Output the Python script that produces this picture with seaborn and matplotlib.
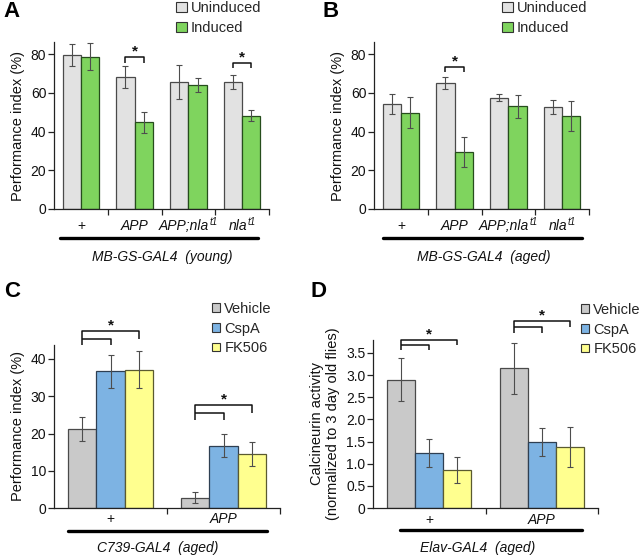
import numpy as np
import pandas as pd
import matplotlib
matplotlib.use("Agg")
import matplotlib.pyplot as plt
import matplotlib.transforms as mtrans
from matplotlib.patches import Patch
from matplotlib.lines import Line2D
import seaborn as sns

# ---------------- data ----------------
ab_groups = ["+", "APP", "APP;nla", "nla"]
ab_label_base = ["+", "APP", "APP;nla", "nla"]
ab_label_sup = ["", "", "t1", "t1"]
ab_label_italic = [False, True, True, True]
ab_series = ["Uninduced", "Induced"]

a_unind = [79.5, 68.0, 65.5, 65.5]
a_unind_err = [5.8, 5.7, 8.9, 3.8]
a_ind = [78.5, 44.7, 64.0, 48.2]
a_ind_err = [7.0, 5.4, 3.5, 3.0]

b_unind = [54.0, 64.9, 57.5, 52.7]
b_unind_err = [5.2, 3.0, 1.7, 3.5]
b_ind = [49.7, 29.4, 53.0, 48.0]
b_ind_err = [8.0, 7.8, 5.8, 7.6]

cd_groups = ["+", "APP"]
cd_label_base = ["+", "APP"]
cd_label_sup = ["", ""]
cd_label_italic = [False, True]
cd_series = ["Vehicle", "CspA", "FK506"]

c_vehicle = [21.2, 2.8]
c_vehicle_err = [3.1, 1.5]
c_cspa = [36.7, 16.7]
c_cspa_err = [4.5, 3.1]
c_fk506 = [37.1, 14.6]
c_fk506_err = [5.0, 3.2]

d_vehicle = [2.90, 3.15]
d_vehicle_err = [0.49, 0.58]
d_cspa = [1.24, 1.49]
d_cspa_err = [0.32, 0.32]
d_fk506 = [0.86, 1.37]
d_fk506_err = [0.29, 0.45]

# significance brackets (top, low) for A/B, (top, mid, low) for C/D
a_brackets = {"APP": (78.3, 75.4), "nla": (75.5, 72.6)}
b_brackets = {"APP": (73.4, 70.5)}
c_brackets = {"+": (47.5, 45.5, 43.75), "APP": (27.7, 25.4, 23.7)}
d_brackets = {"+": (3.80, 3.67, 3.56), "APP": (4.22, 4.09, 3.95)}

# ---------------- style ----------------
sns.set_theme(style="ticks")
plt.rcParams["font.family"] = ["Liberation Sans", "DejaVu Sans"]

ab_colors = ["#e2e2e2", "#7fd45e"]
ab_edges = ["#4a4a4a", "#264d1c"]
cd_colors = ["#c9c9c9", "#7db3e3", "#ffff8f"]
cd_edges = ["#4a4a4a", "#2e3f52", "#5a5a30"]

W, H = 640, 558
fig = plt.figure(figsize=(W / 100, H / 100), dpi=100)
renderer = fig.canvas.get_renderer()


def ax_px(l, r, bottom, top):
    return fig.add_axes([l / W, 1 - bottom / H, (r - l) / W, (bottom - top) / H])


def text_width(txt, size, style):
    if not txt:
        return 0.0
    t = fig.text(0, 0, txt, fontsize=size, style=style)
    w = t.get_window_extent(renderer).width
    t.remove()
    return w


def draw_panel(ax, groups, lab_base, lab_sup, lab_it, series, values, errors, colors,
               edges, width, ylim, yticks, yticklabels, ylabel, label_off):
    rows = []
    for s, vals in zip(series, values):
        for g, v in zip(groups, vals):
            rows.append(dict(group=g, series=s, value=v))
    df = pd.DataFrame(rows)
    sns.barplot(data=df, x="group", y="value", hue="series", order=groups,
                hue_order=series, palette=dict(zip(series, colors)),
                width=width, gap=0, errorbar=None, ax=ax, legend=False,
                saturation=1, linewidth=0.9)
    centers = {}
    for s, cont, errs, ec in zip(series, ax.containers, errors, edges):
        for g, bar, e in zip(groups, cont, errs):
            bar.set_edgecolor(ec)
            x = bar.get_x() + bar.get_width() / 2
            centers[(s, g)] = x
            ax.errorbar(x, bar.get_height(), yerr=e, fmt="none", ecolor="#4d4d4d",
                        elinewidth=0.8, capsize=2.3, capthick=0.8, zorder=5)
    n = len(groups)
    ax.set_xlim(-0.5, n - 0.5)
    ax.set_ylim(*ylim)
    ax.set_yticks(yticks)
    ax.set_yticklabels(yticklabels)
    ax.set_xticks(range(n))
    ax.set_xticklabels([""] * n)
    ax.set_xticks([i + 0.5 for i in range(n)], minor=True)
    ax.tick_params(axis="x", which="major", length=0)
    ax.tick_params(axis="x", which="minor", length=4, width=0.9, color="#222222", direction="out")
    ax.tick_params(axis="y", length=4, width=0.9, color="#222222", pad=1.5, labelsize=10,
                   labelcolor="#111111")
    ax.set_xlabel("")
    ax.set_ylabel(ylabel, fontsize=10.5, labelpad=4, color="#111111")
    for side in ["top", "right"]:
        ax.spines[side].set_visible(False)
    for side in ["left", "bottom"]:
        ax.spines[side].set_color("#222222")
        ax.spines[side].set_linewidth(0.9)
    for i, (b, sp, it) in enumerate(zip(lab_base, lab_sup, lab_it)):
        style = "italic" if it else "normal"
        wb = text_width(b, 10, style)
        ws = text_width(sp, 7, "italic")
        total = wb + ws
        tr = mtrans.offset_copy(ax.get_xaxis_transform(), fig=fig, x=-total / 2,
                                y=-label_off, units="dots")
        ax.text(i, 0, b, transform=tr, ha="left", va="baseline", fontsize=10,
                style=style, color="#111111")
        if sp:
            tr2 = mtrans.offset_copy(ax.get_xaxis_transform(), fig=fig,
                                     x=-total / 2 + wb + 0.5, y=-label_off + 5, units="dots")
            ax.text(i, 0, sp, transform=tr2, ha="left", va="baseline", fontsize=7,
                    style="italic", color="#111111")
    return centers


def star(ax, x, y):
    tr = mtrans.offset_copy(ax.transData, fig=fig, x=0, y=1.5, units="dots")
    ax.text(x, y, "*", transform=tr, ha="center", va="baseline", fontsize=11,
            fontweight="bold", color="#111111", clip_on=False)


def simple_bracket(ax, x0, x1, top, low):
    ax.plot([x0, x0, x1, x1], [low, top, top, low], color="#111111", lw=1.1,
            clip_on=False, solid_capstyle="butt")
    star(ax, (x0 + x1) / 2, top)


def triple_bracket(ax, x0, x1, x2, top, mid, low):
    ax.plot([x0, x0, x2, x2], [low, top, top, mid], color="#111111", lw=1.1,
            clip_on=False, solid_capstyle="butt")
    ax.plot([x0, x1, x1], [mid, mid, low], color="#111111", lw=1.1,
            clip_on=False, solid_capstyle="butt")
    star(ax, (x0 + x2) / 2, top)


def legend(labels, colors, edges, x, y, size, spacing):
    handles = [Patch(facecolor=c, edgecolor="#333333", linewidth=0.8) for c in colors]
    fig.legend(handles, labels, loc="upper left", bbox_to_anchor=(x / W, 1 - y / H),
               frameon=False, handlelength=size, handleheight=size, handletextpad=0.3,
               labelspacing=spacing, borderpad=0, borderaxespad=0, fontsize=10.5)


def underline(x0, x1, y, text, ty, tx):
    fig.add_artist(Line2D([x0 / W, x1 / W], [1 - y / H, 1 - y / H], color="black", lw=2.4))
    fig.text(tx / W, 1 - ty / H, text, ha="center", va="baseline", fontsize=10,
             style="italic", color="#111111")


# ---------------- Panel A ----------------
axA = ax_px(54, 269, 209, 209 - 86 * 1.9375)
cA = draw_panel(axA, ab_groups, ab_label_base, ab_label_sup, ab_label_italic, ab_series,
                [a_unind, a_ind], [a_unind_err, a_ind_err], ab_colors, ab_edges, 0.68,
                (0, 86), [0, 20, 40, 60, 80], ["0", "20", "40", "60", "80"],
                "Performance index (%)", 21)
for g, (t, l) in a_brackets.items():
    simple_bracket(axA, cA[("Uninduced", g)], cA[("Induced", g)], t, l)
legend(ab_series, ab_colors, ab_edges, 176, 1, 0.72, 0.42)
underline(60, 258, 238, "MB-GS-GAL4  (young)", 261, 162)

# ---------------- Panel B ----------------
axB = ax_px(374, 589, 209, 209 - 86 * 1.9375)
cB = draw_panel(axB, ab_groups, ab_label_base, ab_label_sup, ab_label_italic, ab_series,
                [b_unind, b_ind], [b_unind_err, b_ind_err], ab_colors, ab_edges, 0.68,
                (0, 86), [0, 20, 40, 60, 80], ["0", "20", "40", "60", "80"],
                "Performance index (%)", 21)
for g, (t, l) in b_brackets.items():
    simple_bracket(axB, cB[("Uninduced", g)], cB[("Induced", g)], t, l)
legend(ab_series, ab_colors, ab_edges, 502, 1, 0.72, 0.42)
underline(383, 582, 238, "MB-GS-GAL4  (aged)", 261, 484)

# ---------------- Panel C ----------------
axC = ax_px(54, 280, 508, 508 - 43.8 * 3.725)
cC = draw_panel(axC, cd_groups, cd_label_base, cd_label_sup, cd_label_italic, cd_series,
                [c_vehicle, c_cspa, c_fk506], [c_vehicle_err, c_cspa_err, c_fk506_err],
                cd_colors, cd_edges, 0.75, (0, 43.8), [0, 10, 20, 30, 40],
                ["0", "10", "20", "30", "40"], "Performance index (%)", 15)
for g, (t, m, l) in c_brackets.items():
    triple_bracket(axC, cC[("Vehicle", g)], cC[("CspA", g)], cC[("FK506", g)], t, m, l)
legend(cd_series, cd_colors, cd_edges, 212, 302, 0.55, 0.38)
underline(68, 267, 531, "C739-GAL4  (aged)", 552, 158)

# ---------------- Panel D ----------------
axD = ax_px(373, 598, 508, 508 - 3.8 * 44.29)
cD = draw_panel(axD, cd_groups, cd_label_base, cd_label_sup, cd_label_italic, cd_series,
                [d_vehicle, d_cspa, d_fk506], [d_vehicle_err, d_cspa_err, d_fk506_err],
                cd_colors, cd_edges, 0.75, (0, 3.8),
                [0, 0.5, 1.0, 1.5, 2.0, 2.5, 3.0, 3.5],
                ["0", "0.5", "1.0", "1.5", "2.0", "2.5", "3.0", "3.5"],
                "Calcineurin activity\n(normalized to 3 day old flies)", 16)
for g, (t, m, l) in d_brackets.items():
    triple_bracket(axD, cD[("Vehicle", g)], cD[("CspA", g)], cD[("FK506", g)], t, m, l)
legend(cd_series, cd_colors, cd_edges, 581, 303, 0.55, 0.38)
underline(400, 582, 530, "Elav-GAL4  (aged)", 552, 478)

# ---------------- panel letters ----------------
for lx, ly, letter in [(3, 1, "A"), (322, 1, "B"), (4, 281, "C"), (311, 281, "D")]:
    fig.text(lx / W, 1 - ly / H, letter, ha="left", va="top", fontsize=16,
             fontweight="bold", color="black")

fig.savefig("out.png", dpi=100)
